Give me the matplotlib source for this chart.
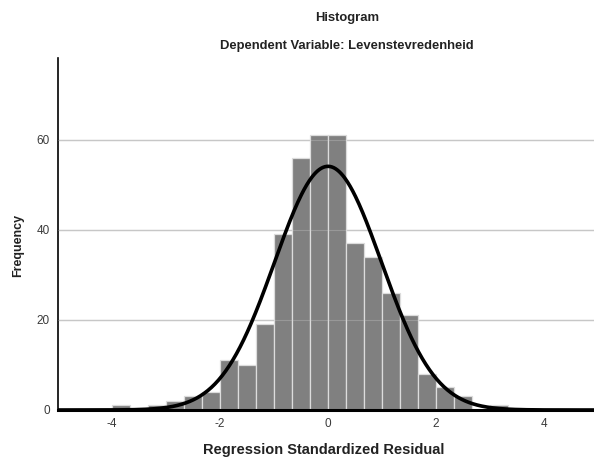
import numpy as np
import matplotlib
matplotlib.use("Agg")
import matplotlib.pyplot as plt

plt.rcParams['font.family'] = ['Liberation Sans', 'DejaVu Sans']
plt.rcParams['axes.unicode_minus'] = False

# histogram of standardized residuals, bins of width 1/3
bin_edges = np.arange(-12, 11) / 3.0
counts = [1, 0, 1, 2, 3, 4, 11, 10, 19, 39, 56, 61,
          61, 37, 34, 26, 21, 8, 5, 3, 0, 1]
# normal curve parameters
res_mean = 0.0
res_std = 0.99
n_obs = sum(counts)

x_ticks = [-4, -2, 0, 2, 4]
y_ticks = [0, 20, 40, 60]

fig = plt.figure(figsize=(5.94, 4.59), dpi=100)
ax = fig.add_axes([58 / 594, 49 / 459, 536 / 594, 352 / 459])

widths = np.diff(bin_edges)
ax.bar(bin_edges[:-1], counts, width=widths, align='edge',
       color='#808080', edgecolor='#dcdcdc', linewidth=0.9, zorder=2)

for yv in y_ticks[1:]:
    ax.axhline(yv, color='#c4c4c4', linewidth=1.0, zorder=1)
    ax.axhline(yv, color='#d0d0d0', linewidth=0.8, alpha=0.3, zorder=3)

xs = np.linspace(-5, 5, 600)
bw = widths[0]
ys = n_obs * bw / (res_std * np.sqrt(2 * np.pi)) * np.exp(-0.5 * ((xs - res_mean) / res_std) ** 2)
ax.plot(xs, ys, color='black', linewidth=2.6, zorder=4)

ax.set_xlim(-5, -5 + 536 / 54)
ax.set_ylim(0, 78.2)
ax.set_xticks(x_ticks)
ax.set_yticks(y_ticks)
ax.tick_params(length=0, labelsize=8.5, labelcolor='#3a3a3a', pad=6)

ax.spines['top'].set_visible(False)
ax.spines['right'].set_visible(False)
ax.spines['left'].set_linewidth(1.2)
ax.spines['bottom'].set_linewidth(2.2)
ax.spines['bottom'].set_zorder(5)

fig.text(347 / 594, 1 - 18 / 459, 'Histogram', ha='center', va='center',
         fontsize=9.4, fontweight='bold', color='#222222')
fig.text(347 / 594, 1 - 46 / 459, 'Dependent Variable: Levenstevredenheid',
         ha='center', va='center', fontsize=9.4, fontweight='bold', color='#222222')
fig.text(324 / 594, 1 - 450 / 459, 'Regression Standardized Residual',
         ha='center', va='center', fontsize=10.5, fontweight='bold', color='#222222')
fig.text(18 / 594, 1 - 245 / 459, 'Frequency', ha='center', va='center',
         rotation=90, fontsize=9, fontweight='bold', color='#222222')

fig.savefig('out.png', dpi=100)
